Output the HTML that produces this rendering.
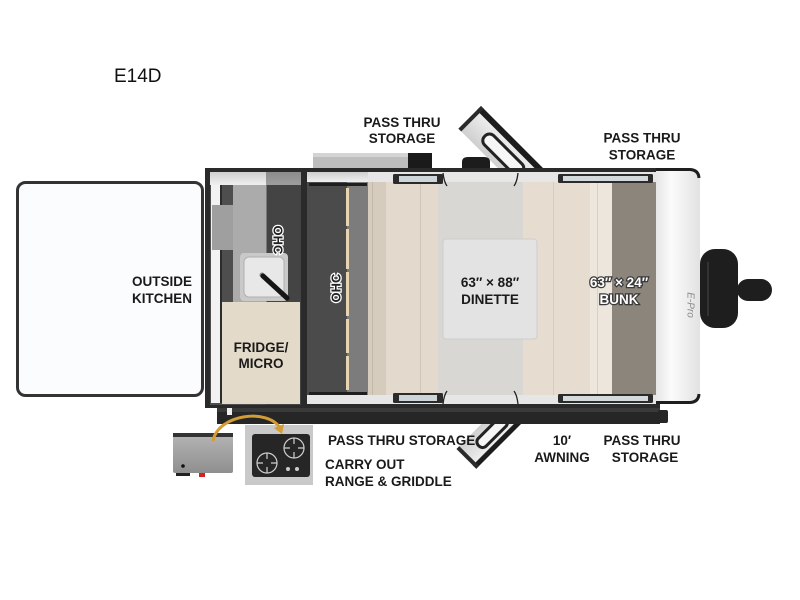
<!DOCTYPE html>
<html><head><meta charset="utf-8"><style>
html,body{margin:0;padding:0;background:#fff;}
svg{display:block;}
text{font-family:"Liberation Sans",Arial,sans-serif;}
.l{font-weight:bold;font-size:13.5px;fill:#1a1a1a;}
</style></head><body>
<svg width="800" height="600" viewBox="0 0 800 600" xmlns="http://www.w3.org/2000/svg">
<defs>
<linearGradient id="cap" x1="0" x2="1" y1="0" y2="0">
<stop offset="0" stop-color="#e6e6e6"/><stop offset="0.35" stop-color="#fbfbfb"/><stop offset="1" stop-color="#e2e2e2"/>
</linearGradient>
<linearGradient id="band" x1="0" x2="0" y1="0" y2="1">
<stop offset="0" stop-color="#cfcfcf"/><stop offset="1" stop-color="#f0f0f0"/>
</linearGradient>
<linearGradient id="door" x1="0" x2="0" y1="0" y2="1">
<stop offset="0" stop-color="#f4f4f4"/><stop offset="1" stop-color="#cfcfcf"/>
</linearGradient>
<linearGradient id="grd" x1="0" x2="0" y1="0" y2="1">
<stop offset="0" stop-color="#b5b5b5"/><stop offset="1" stop-color="#8f8f8f"/>
</linearGradient>
</defs>

<!-- title -->
<text x="114" y="82" font-size="19" fill="#111">E14D</text>

<!-- outside kitchen -->
<rect x="17.5" y="182.5" width="185" height="213" rx="8" fill="#fbfcfd" stroke="#333" stroke-width="3"/>

<!-- roof item top -->
<rect x="313" y="153" width="95" height="15" fill="#bdbdbd"/>
<rect x="313" y="153" width="95" height="4" fill="#d4d4d4"/>
<rect x="408" y="153" width="24" height="15" fill="#1a1a1a"/>

<!-- top door -->
<g transform="translate(481,106) rotate(45)">
<rect x="0" y="0" width="88" height="32" fill="url(#door)"/>
<rect x="0" y="0" width="88" height="6" fill="#1c1c1c"/>
<rect x="0" y="0" width="4" height="32" fill="#2a2a2a"/>
<rect x="24" y="12" width="52" height="13" rx="6" fill="#f6f6f6" stroke="#222" stroke-width="3"/>
</g>
<path d="M462,170 L462,162 Q462,157 468,157 L484,157 Q490,157 490,162 L490,170 Z" fill="#1c1c1c"/>

<!-- bottom door (drawn under body) -->
<g transform="translate(530,415) rotate(135)">
<rect x="0" y="0" width="76" height="28" fill="url(#door)"/>
<rect x="0" y="0" width="76" height="5" fill="#1c1c1c"/>
<rect x="72" y="0" width="4" height="28" fill="#2a2a2a"/>
<rect x="20" y="9" width="38" height="11" rx="5" fill="#f6f6f6" stroke="#222" stroke-width="3"/>
</g>

<!-- main body frame -->
<rect x="205" y="168" width="455" height="240" fill="#2a2a2a"/>

<!-- kitchen -->
<rect x="210" y="172" width="91" height="233" fill="#4e4e4e"/>
<rect x="210" y="172" width="91" height="13" fill="url(#band)"/>
<rect x="211" y="185" width="9" height="218" fill="#f2f2f2"/>
<rect x="220" y="185" width="2" height="218" fill="#2c2c2c"/>
<rect x="212" y="205" width="21" height="45" fill="#9f9f9f"/>
<rect x="233" y="185" width="34" height="117" fill="#ababab"/>
<rect x="266" y="172" width="35" height="233" fill="#3a3a3a" opacity="0.45"/>
<rect x="240" y="253" width="48" height="48" rx="4" fill="#c9c9c9"/>
<rect x="244" y="257" width="40" height="40" rx="5" fill="#e8e8e8" stroke="#b0b0b0"/>
<circle cx="262" cy="275" r="2.5" fill="#888"/>
<line x1="263" y1="276" x2="287" y2="298" stroke="#151515" stroke-width="5" stroke-linecap="round"/>
<rect x="222" y="302" width="78" height="102" fill="#e4dac9"/>
<text x="277" y="240" font-size="13" font-weight="bold" fill="#222" stroke="#fff" stroke-width="2.5" paint-order="stroke" text-anchor="middle" transform="rotate(90 277 240)" dominant-baseline="middle">OHC</text>

<!-- divider -->
<rect x="301" y="168" width="6" height="240" fill="#2a2a2a"/>

<!-- OHC area -->
<rect x="307" y="172" width="349" height="232" fill="#e6e6e6"/>
<rect x="307" y="182" width="40" height="213" fill="#4b4b4b"/>
<rect x="347" y="182" width="21" height="213" fill="#7c7c7c"/>
<rect x="307" y="172" width="61" height="10" fill="url(#band)"/>
<rect x="309" y="183" width="58" height="3" fill="#1e1e1e"/>
<rect x="309" y="392" width="58" height="3" fill="#1e1e1e"/>
<rect x="346" y="188" width="3" height="38" fill="#e6d4b3"/>
<rect x="346" y="229" width="3" height="40" fill="#e6d4b3"/>
<rect x="346" y="272" width="3" height="44" fill="#e6d4b3"/>
<rect x="346" y="319" width="3" height="34" fill="#e6d4b3"/>
<rect x="346" y="356" width="3" height="34" fill="#e6d4b3"/>
<text x="337" y="288" font-size="13" font-weight="bold" fill="#222" stroke="#fff" stroke-width="2.5" paint-order="stroke" text-anchor="middle" transform="rotate(-90 337 288)" dominant-baseline="middle">OHC</text>

<!-- sofa -->
<rect x="368" y="182" width="18" height="213" fill="#d5ccbe"/>
<rect x="372" y="182" width="1" height="213" fill="#c3b9aa"/>
<rect x="386" y="182" width="52" height="213" fill="#e3dacd"/>
<rect x="420" y="182" width="1" height="213" fill="#d0c6b8"/>

<!-- dinette floor -->
<rect x="438" y="182" width="85" height="213" fill="#d8d7d3"/>
<g stroke="#222" stroke-width="1.3" fill="none">
<path d="M443,173 Q444,182 447,186"/><path d="M518,173 Q517,182 514,186"/>
<path d="M443,404 Q444,395 447,391"/><path d="M518,404 Q517,395 514,391"/>
</g>

<!-- right bench / bunk -->
<rect x="523" y="182" width="67" height="213" fill="#e6ddd0"/>
<rect x="553" y="182" width="1" height="213" fill="#d6cdbf"/>
<rect x="590" y="182" width="22" height="213" fill="#ece6dc"/>
<rect x="597" y="182" width="1" height="213" fill="#d8d0c4"/>
<rect x="612" y="182" width="45" height="213" fill="#8b857c"/>

<!-- table -->
<rect x="443" y="239" width="94" height="100" rx="3" fill="#e3e3e3" stroke="#cdcdcd"/>

<!-- windows -->
<rect x="393" y="174" width="50" height="10" rx="1.5" fill="#2b2b2b"/>
<rect x="399" y="176" width="38" height="6" fill="#cdd5d9"/>
<rect x="393" y="393" width="50" height="10" rx="1.5" fill="#2b2b2b"/>
<rect x="399" y="395" width="38" height="6" fill="#cdd5d9"/>
<rect x="558" y="174" width="95" height="9" rx="1.5" fill="#2b2b2b"/>
<rect x="563" y="176" width="85" height="5" fill="#d4d9dc"/>
<rect x="558" y="394" width="95" height="9" rx="1.5" fill="#2b2b2b"/>
<rect x="563" y="396" width="85" height="5" fill="#d4d9dc"/>

<!-- end cap -->
<path d="M656,168 L690,168 Q700,168 700,178 L700,394 Q700,404 690,404 L656,404 Z" fill="url(#cap)"/>
<path d="M656,169.5 L690,169.5 Q698.5,170 699,178" fill="none" stroke="#1e1e1e" stroke-width="3"/>
<path d="M656,402.5 L690,402.5 Q698.5,402 699,394" fill="none" stroke="#1e1e1e" stroke-width="3"/>
<text x="690" y="305" font-size="10" font-style="italic" fill="#8a8a8a" text-anchor="middle" transform="rotate(90 690 305)" dominant-baseline="middle">E-Pro</text>

<!-- tongue -->
<rect x="737" y="279" width="35" height="22" rx="11" fill="#1e1e1e"/>
<rect x="700" y="249" width="38" height="79" rx="15" fill="#1e1e1e"/>
<rect x="707" y="262" width="2" height="54" fill="#333"/>

<!-- awning bar -->
<rect x="217" y="408" width="443" height="16" fill="#262626"/>
<rect x="217" y="408" width="443" height="4" fill="#3a3a3a"/>
<rect x="227" y="408" width="5" height="7" fill="#f0f0f0"/>
<rect x="658" y="410" width="10" height="13" rx="2" fill="#262626"/>

<!-- griddle -->
<rect x="173" y="433" width="60" height="40" rx="2" fill="url(#grd)"/>
<rect x="173" y="433" width="60" height="4" fill="#333"/>
<rect x="176" y="473" width="14" height="3" fill="#222"/>
<circle cx="183" cy="466" r="1.8" fill="#111"/>
<rect x="199" y="473" width="6" height="4" fill="#d42020"/>

<!-- range -->
<rect x="245" y="425" width="68" height="60" fill="#c9c9c9"/>
<rect x="252" y="434" width="58" height="43" rx="3" fill="#262626"/>
<g fill="none" stroke="#cfcfcf" stroke-width="1.2">
<circle cx="267" cy="463" r="10"/><circle cx="294" cy="448" r="10"/>
<path d="M267,453 L267,459 M257,463 L263,463 M277,463 L271,463 M267,473 L267,467"/>
<path d="M294,438 L294,444 M284,448 L290,448 M304,448 L298,448 M294,458 L294,452"/>
</g>
<circle cx="288" cy="469" r="2" fill="#ccc"/><circle cx="297" cy="469" r="2" fill="#ccc"/>

<!-- arrow -->
<path d="M213,441 C218,414 268,408 280,428" fill="none" stroke="#d49c34" stroke-width="3"/>
<path d="M274,428 L282,434 L284,424 Z" fill="#d49c34"/>

<!-- labels -->
<g class="l" text-anchor="middle">
<text x="402" y="127">PASS THRU</text>
<text x="402" y="143">STORAGE</text>
<text x="642" y="142.5">PASS THRU</text>
<text x="642" y="159.5">STORAGE</text>
<text x="261" y="352">FRIDGE/</text>
<text x="261" y="368">MICRO</text>
<text x="490" y="287">63″ × 88″</text>
<text x="490" y="304">DINETTE</text>
<text x="562" y="445">10′</text>
<text x="562" y="462">AWNING</text>
<text x="642" y="445">PASS THRU</text>
<text x="645" y="462">STORAGE</text>
</g>
<g class="l" text-anchor="middle" style="fill:#fff" stroke="#3a3a3a" stroke-width="2.5" paint-order="stroke">
<text x="619" y="287">63″ × 24″</text>
<text x="619" y="304">BUNK</text>
</g>
<g class="l" text-anchor="end">
<text x="192" y="286">OUTSIDE</text>
<text x="192" y="303">KITCHEN</text>
</g>
<g class="l">
<text x="328" y="445">PASS THRU STORAGE</text>
<text x="325" y="469">CARRY OUT</text>
<text x="325" y="486">RANGE &amp; GRIDDLE</text>
</g>
</svg>
</body></html>
